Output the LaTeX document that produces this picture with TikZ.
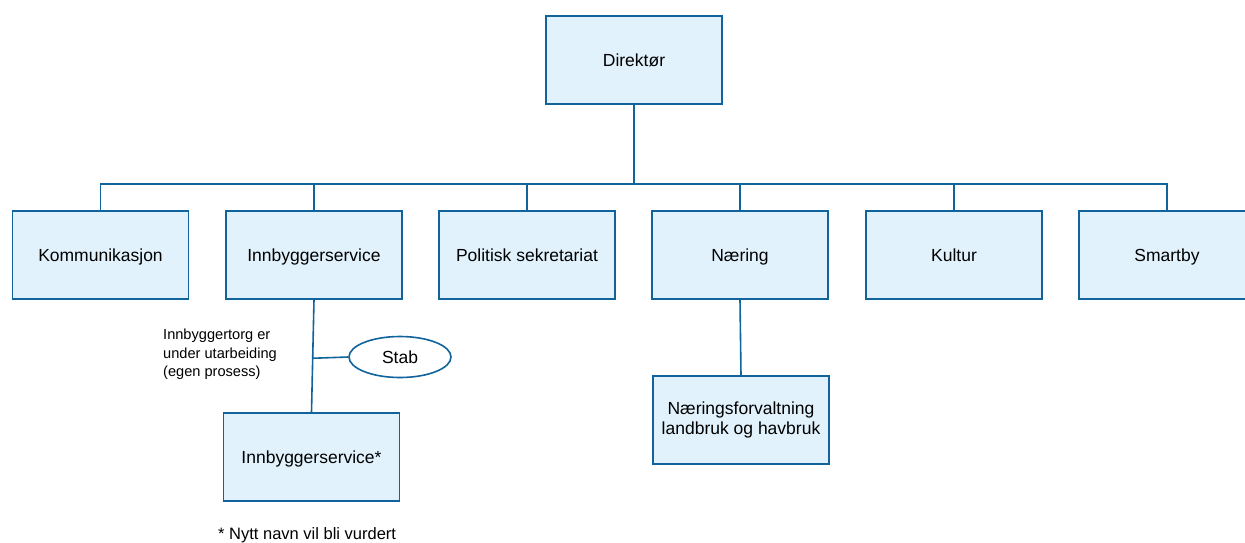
\documentclass[tikz,border=0pt]{standalone}
\usepackage{fontspec}
\setmainfont{Liberation Sans}
\usetikzlibrary{calc,shapes.geometric}
\definecolor{boxfill}{HTML}{E1F2FC}
\definecolor{boxline}{HTML}{10639B}
\tikzset{
  unit/.style={draw=boxline, fill=boxfill, line width=1.6pt, minimum width=176pt, minimum height=88pt, inner sep=2pt, align=center, font=\fontsize{17.5}{20}\selectfont},
  single/.style={unit, text height=13pt, text depth=0pt},
  link/.style={draw=boxline, line width=1.6pt},
  staff/.style={ellipse, draw=boxline, fill=white, line width=1.6pt, minimum width=102pt, minimum height=41pt, inner sep=0pt, text height=13pt, text depth=0pt, font=\fontsize{17.5}{20}\selectfont},
  note/.style={align=left, inner sep=0pt, font=\fontsize{14.6}{18.5}\selectfont}
}
\begin{document}
\begin{tikzpicture}[x=1pt,y=-1pt]
\useasboundingbox (0,0) rectangle (1245,542);
\clip (0,0) rectangle (1245,542);
\node[single] (dir) at (634,60) {Direktør};
\node[single] (kom) at (100.5,255) {Kommunikasjon};
\node[single] (inn) at (314,255) {Innbyggerservice};
\node[single] (pol) at (527,255) {Politisk sekretariat};
\node[single] (nar) at (740,255) {Næring};
\node[single] (kul) at (954,255) {Kultur};
\node[single] (sma) at (1167,255) {Smartby};
\node[single] (inn2) at (311.5,457) {Innbyggerservice*};
\node[unit] (narf) at (741,420) {Næringsforvaltning\\landbruk og havbruk};
\node[staff] (stab) at (400,357) {Stab};
\coordinate (bus) at (0,184);
\coordinate (j) at ($(inn.south)!0.52!(inn2.north)$);
\foreach \c in {kom,inn,pol,nar,kul,sma}{
  \draw[link] (dir.south) -- (dir.south |- bus) -| (\c.north);
}
\draw[link] (inn.south) -- (inn2.north);
\draw[link] (j) -- (stab.west);
\draw[link] (nar.south) -- (narf.north);
\node[note, anchor=north west] (tnote) at (163,329) {Innbyggertorg er\\under utarbeiding\\(egen prosess)};
\node[anchor=base west, inner sep=0pt, font=\fontsize{16.5}{18}\selectfont] (foot) at (218,539) {* Nytt navn vil bli vurdert};
\end{tikzpicture}
\end{document}
